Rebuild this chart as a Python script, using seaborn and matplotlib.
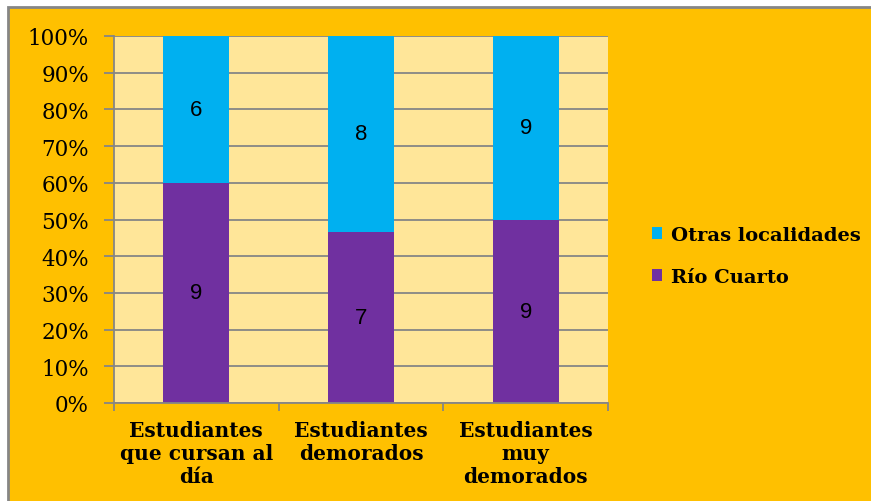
import numpy as np
import pandas as pd
import matplotlib
matplotlib.use("Agg")
import matplotlib.pyplot as plt
import seaborn as sns
from matplotlib.patches import Rectangle, Patch
from matplotlib.ticker import PercentFormatter

# data
categories = ["Estudiantes\nque cursan al\ndía", "Estudiantes\ndemorados", "Estudiantes\nmuy\ndemorados"]
rio_cuarto = [9, 7, 9]
otras = [6, 8, 9]
series_names = ["Otras localidades", "Río Cuarto"]

PURPLE = "#7030A0"
CYAN = "#00B0F0"
GOLD = "#FFC000"
PALE = "#FFE699"
GRID = "#868686"

totals = np.array(rio_cuarto) + np.array(otras)
df = pd.DataFrame({
    "cat": categories,
    "total": 100.0,
    "rio": np.array(rio_cuarto) / totals * 100,
})

sns.set_theme(style="white")
plt.rcParams["font.family"] = ["DejaVu Serif"]
plt.rcParams["text.color"] = "black"
plt.rcParams["xtick.color"] = "black"
plt.rcParams["ytick.color"] = "black"

fig = plt.figure(figsize=(8.71, 5.02), dpi=100)
fig.patch.set_facecolor("white")
# orange chart area with a gray frame, offset like the screenshot
fig.patches.append(Rectangle((8 / 871, -0.05), 1.2, 1 - 8 / 502 + 0.05,
                             transform=fig.transFigure, facecolor=GOLD,
                             edgecolor=GRID, linewidth=2, zorder=-5))

ax = fig.add_axes([114 / 871, 1 - 404 / 502, 494 / 871, 367 / 502])
ax.set_facecolor(PALE)

# full-height bar for "Otras", then Río Cuarto share drawn over it
sns.barplot(data=df, x="cat", y="total", color=CYAN, width=0.4, saturation=1,
            linewidth=0, edgecolor="none", ax=ax, zorder=3)
sns.barplot(data=df, x="cat", y="rio", color=PURPLE, width=0.4, saturation=1,
            linewidth=0, edgecolor="none", ax=ax, zorder=4)

ax.set_ylim(0, 100)
ax.set_xlim(-0.5, 2.5)
ax.yaxis.set_major_locator(plt.MultipleLocator(10))
ax.yaxis.set_major_formatter(PercentFormatter(decimals=0))
ax.grid(axis="y", color=GRID, linewidth=1.3, zorder=1)
ax.set_axisbelow(True)

for s in ["top", "right"]:
    ax.spines[s].set_visible(False)
for s in ["left", "bottom"]:
    ax.spines[s].set_color(GRID)
    ax.spines[s].set_linewidth(1.3)
    ax.spines[s].set_zorder(5)

ax.tick_params(axis="y", which="both", left=True, length=7, width=1.3,
               color=GRID, labelsize=15.5, pad=11, labelcolor="black")
ax.set_xticks([0, 1, 2])
ax.set_xticklabels(categories, fontsize=14.5, fontweight="bold", linespacing=1.2)
ax.tick_params(axis="x", which="major", length=0, pad=12, labelcolor="black")
ax.set_xticks([-0.5, 0.5, 1.5, 2.5], minor=True)
ax.tick_params(axis="x", which="minor", bottom=True, length=6, width=1.3, color=GRID)
ax.set_xlabel("")
ax.set_ylabel("")

# value labels in the middle of each segment
for i in range(len(categories)):
    r = df["rio"][i]
    ax.text(i, r / 2, str(rio_cuarto[i]), ha="center", va="center", fontsize=16,
            family=["Liberation Sans", "DejaVu Sans"], zorder=6)
    ax.text(i, (r + 100) / 2, str(otras[i]), ha="center", va="center", fontsize=16,
            family=["Liberation Sans", "DejaVu Sans"], zorder=6)

handles = [Patch(facecolor=CYAN, edgecolor="none"), Patch(facecolor=PURPLE, edgecolor="none")]
leg = fig.legend(handles, series_names, loc="center left",
                 bbox_to_anchor=(640 / 871, 1 - 257 / 502), frameon=False,
                 prop={"size": 14, "weight": "bold"}, handlelength=0.55,
                 handleheight=0.55, handletextpad=0.45, labelspacing=1.25,
                 borderaxespad=0.2, labelcolor="black")

fig.savefig("out.png", dpi=100, facecolor=fig.get_facecolor())
